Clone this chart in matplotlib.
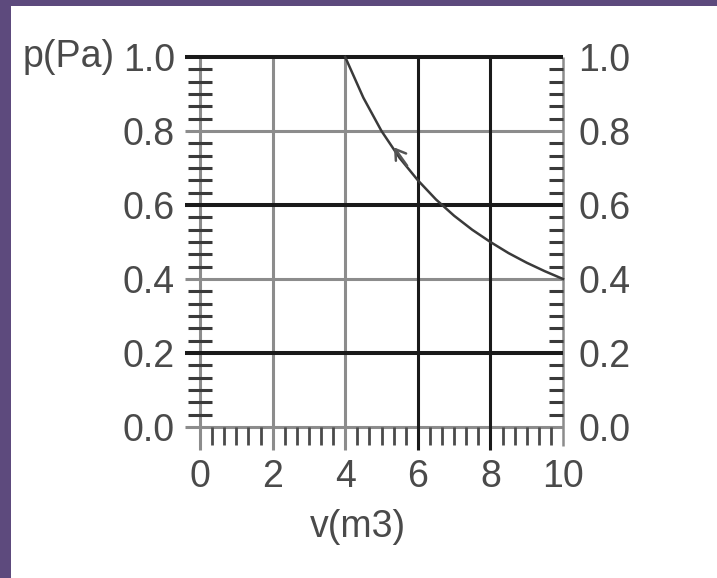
import matplotlib.pyplot as plt
from matplotlib.patches import Rectangle
from matplotlib.ticker import MultipleLocator

# isotherm
V_M3 = [4, 4.5, 5, 5.5, 6, 6.5, 7, 7.5, 8, 8.5, 9, 9.5, 10]
P_PA = [1.0, 0.89, 0.8, 0.727, 0.667, 0.615, 0.571, 0.533, 0.5, 0.47, 0.444, 0.421, 0.4]

X_TICKS = [0, 2, 4, 6, 8, 10]
Y_TICKS = [0.0, 0.2, 0.4, 0.6, 0.8, 1.0]
Y_LABELS = ["0.0", "0.2", "0.4", "0.6", "0.8", "1.0"]
DARK_Y = [1.0, 0.6, 0.2]
LIGHT_Y = [0.8, 0.4, 0.0]
DARK_X = [6, 8]
LIGHT_X = [0, 2, 4]

PURPLE = "#5d4a7d"
BLACK = "#1a1a1a"
GREY = "#8c8c8c"
TEXT = "#4a4a4a"
FS = 27
plt.rcParams["font.family"] = ["Liberation Sans", "DejaVu Sans"]

fig = plt.figure(figsize=(7.17, 5.78), dpi=100)
fig.patch.set_facecolor("white")
fig.add_artist(Rectangle((0, 0), 11 / 717, 1, transform=fig.transFigure, color=PURPLE, lw=0))
fig.add_artist(Rectangle((0, 1 - 6 / 578), 1, 6 / 578, transform=fig.transFigure, color=PURPLE, lw=0))

ax = fig.add_axes([200 / 717, 1 - 427 / 578, 363 / 717, 370 / 578])
ax.set_xlim(0, 10)
ax.set_ylim(0, 1)
for s in ax.spines.values():
    s.set_visible(False)

# grid, drawn by hand so the lines can run past the frame like the original
for y in LIGHT_Y:
    ax.plot([-0.41, 10], [y, y], color=GREY, lw=2.2, clip_on=False, zorder=1, solid_capstyle="butt")
for x in LIGHT_X:
    ax.plot([x, x], [-0.062, 1.0], color=GREY, lw=2.2, clip_on=False, zorder=1, solid_capstyle="butt")
ax.plot([10, 10], [-0.05, 1.0], color=GREY, lw=1.8, clip_on=False, zorder=1, solid_capstyle="butt")
for y in DARK_Y:
    ax.plot([-0.41, 10], [y, y], color=BLACK, lw=2.9, clip_on=False, zorder=2, solid_capstyle="butt")
for x in DARK_X:
    ax.plot([x, x], [-0.062, 1.0], color=BLACK, lw=2.2, clip_on=False, zorder=2, solid_capstyle="butt")

ax.plot(V_M3, P_PA, color="#3a3a3a", lw=1.8, zorder=3, clip_on=False)
ax.annotate("", xy=(5.3, 0.762), xytext=(5.75, 0.70),
            arrowprops=dict(arrowstyle="->,head_length=0.7,head_width=0.45", color="#555555", lw=1.8))

# ticks
ax.set_xticks(X_TICKS)
ax.set_yticks(Y_TICKS)
ax.set_yticklabels(Y_LABELS)
ax.xaxis.set_minor_locator(MultipleLocator(1 / 3))
ax.yaxis.set_minor_locator(MultipleLocator(0.2 / 6))
ax.tick_params(axis="both", which="major", length=0, labelsize=FS, labelcolor=TEXT)
ax.tick_params(axis="y", which="major", pad=18)
ax.tick_params(axis="x", which="major", pad=23)
ax.tick_params(axis="y", which="minor", direction="inout", length=17, width=2.2, color="#3a3a3a")
ax.tick_params(axis="x", which="minor", direction="out", length=13, width=2.0, color="#4a4a4a")

ax2 = ax.twinx()
ax2.set_ylim(0, 1)
for s in ax2.spines.values():
    s.set_visible(False)
ax2.set_yticks(Y_TICKS)
ax2.set_yticklabels(Y_LABELS)
ax2.yaxis.set_minor_locator(MultipleLocator(0.2 / 6))
ax2.tick_params(axis="y", which="major", length=0, pad=11, labelsize=FS, labelcolor=TEXT)
ax2.tick_params(axis="y", which="minor", direction="in", length=10, width=2.2, color="#3a3a3a")

ax.text(-2.35, 1.0, "p(Pa)", ha="right", va="center", fontsize=FS, color=TEXT, clip_on=False)
ax.text(4.35, -0.27, "v(m3)", ha="center", va="center", fontsize=FS, color=TEXT, clip_on=False)

fig.savefig("out.png", dpi=100, facecolor="white")
